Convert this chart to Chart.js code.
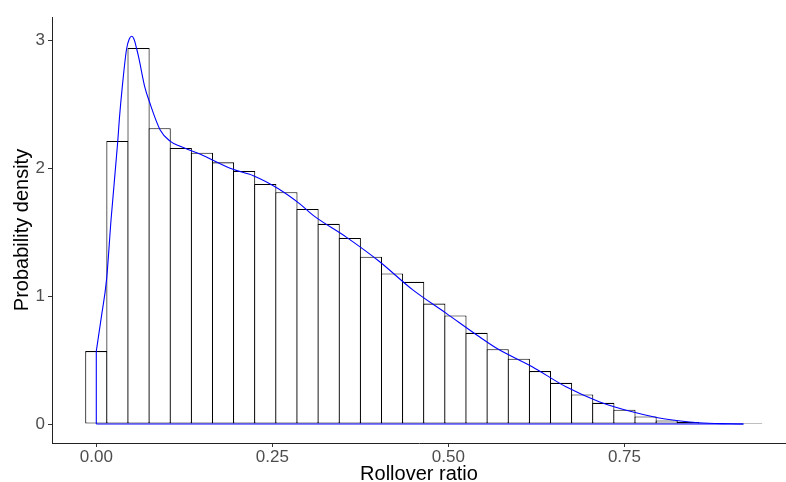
<!DOCTYPE html>
<html>
<head>
<meta charset="utf-8">
<script src="https://cdn.jsdelivr.net/npm/chart.js@4.4.1/dist/chart.umd.min.js"></script>
<style>
  html, body { margin: 0; padding: 0; background: #ffffff; }
  #wrap { width: 786px; height: 482px; }
</style>
</head>
<body>
<div id="wrap"><canvas id="c" width="786" height="482"></canvas></div>
<script>
// Histogram bins (centers) and densities
const binCenters = [0.00,0.03,0.06,0.09,0.12,0.15,0.18,0.21,0.24,0.27,0.30,0.33,0.36,0.39,0.42,0.45,
                    0.48,0.51,0.54,0.57,0.60,0.63,0.66,0.69,0.72,0.75,0.78,0.81,0.84,0.87,0.90,0.93];
const binDensity = [0.570,2.212,2.938,2.311,2.157,2.120,2.045,1.977,1.876,1.811,1.681,1.564,1.454,1.308,1.176,1.111,
                    0.941,0.848,0.713,0.585,0.510,0.414,0.322,0.231,0.166,0.112,0.059,0.028,0.016,0.008,0.003,0.001];
// Kernel density curve
const densX = [0,0.007,0.0146,0.021,0.0305,0.0327,0.037,0.043,0.047,0.0503,0.054,0.0574,0.060,0.069,0.0753,0.0905,
               0.1047,0.119,0.147,0.194,0.223,0.258,0.289,0.308,0.355,0.402,0.449,0.497,0.544,0.571,0.619,0.667,
               0.714,0.761,0.808,0.856,0.90,0.919];
const densY = [0.57,0.83,1.13,1.60,2.21,2.38,2.64,2.93,3.01,3.03,3.00,2.93,2.87,2.63,2.52,2.30,
               2.21,2.17,2.11,1.99,1.94,1.84,1.72,1.63,1.46,1.27,1.05,0.865,0.682,0.584,0.448,0.291,
               0.175,0.096,0.039,0.010,0.002,0];
const densStart = 0;
const densEnd = 0.919;
// Ticks
const xTicks = [0, 0.25, 0.5, 0.75];
const xTickLabels = ['0.00', '0.25', '0.50', '0.75'];
const yTicks = [0, 1, 2, 3];
const yTickLabels = ['0', '1', '2', '3'];
const xTitle = 'Rollover ratio';
const yTitle = 'Probability density';

const FONT = "'Liberation Sans', Arial, Helvetica, sans-serif";

const barData = binCenters.map((x, i) => ({ x: x, y: binDensity[i] }));
const curveData = densX.map((x, i) => ({ x: x, y: densY[i] }));
const baseData = [{ x: densStart, y: 0 }, { x: densEnd, y: 0 }];
const vertData = [{ x: densStart, y: 0 }, { x: densStart, y: densY[0] }];

new Chart(document.getElementById('c'), {
  type: 'bar',
  data: {
    datasets: [
      {
        type: 'line', data: curveData, borderColor: '#0000ff', borderWidth: 1.1,
        pointRadius: 0, cubicInterpolationMode: 'monotone', fill: false, order: 0
      },
      {
        type: 'line', data: baseData, borderColor: '#0000ff', borderWidth: 1.1,
        pointRadius: 0, tension: 0, fill: false, order: 0
      },
      {
        type: 'line', data: vertData, borderColor: '#0000ff', borderWidth: 1.1,
        pointRadius: 0, tension: 0, fill: false, order: 0
      },
      {
        type: 'bar', data: barData, backgroundColor: '#ffffff', borderColor: '#000000',
        borderWidth: 1.1, borderSkipped: false, minBarLength: 1,
        barPercentage: 1.05, categoryPercentage: 1.0, order: 1
      }
    ]
  },
  options: {
    responsive: false,
    animation: false,
    devicePixelRatio: 1,
    layout: { padding: { top: 17, right: 0, left: 0, bottom: 0 } },
    plugins: { legend: { display: false }, tooltip: { enabled: false } },
    scales: {
      x: {
        type: 'linear', min: -0.0629, max: 0.9794, offset: false,
        afterFit: (s) => { s.height = 39; },
        afterBuildTicks: (s) => { s.ticks = xTicks.map(v => ({ value: v })); },
        ticks: {
          autoSkip: false, maxRotation: 0, padding: 0, color: '#4D4D4D',
          font: { family: FONT, size: 17 },
          callback: (v) => { const i = xTicks.indexOf(v); return i >= 0 ? xTickLabels[i] : ''; }
        },
        grid: { offset: false, drawOnChartArea: false, drawTicks: true, tickLength: 4, color: '#333333', lineWidth: 1 },
        border: { display: true, color: '#222222', width: 1 },
        title: {
          display: true, text: xTitle, color: '#000000',
          font: { family: FONT, size: 20, lineHeight: 1.2 },
          padding: { top: 0, bottom: -4 }
        }
      },
      y: {
        type: 'linear', min: -0.148, max: 3.18,
        afterFit: (s) => { s.width = 52; },
        afterBuildTicks: (s) => { s.ticks = yTicks.map(v => ({ value: v })); },
        ticks: {
          autoSkip: false, padding: 3, color: '#4D4D4D',
          font: { family: FONT, size: 17 },
          callback: (v) => { const i = yTicks.indexOf(v); return i >= 0 ? yTickLabels[i] : ''; }
        },
        grid: { drawOnChartArea: false, drawTicks: true, tickLength: 4, color: '#333333', lineWidth: 1 },
        border: { display: true, color: '#222222', width: 1 },
        title: {
          display: true, text: yTitle, color: '#000000',
          font: { family: FONT, size: 20, lineHeight: 1.2 },
          padding: { top: 10, bottom: 0 }
        }
      }
    }
  }
});
</script>
</body>
</html>
